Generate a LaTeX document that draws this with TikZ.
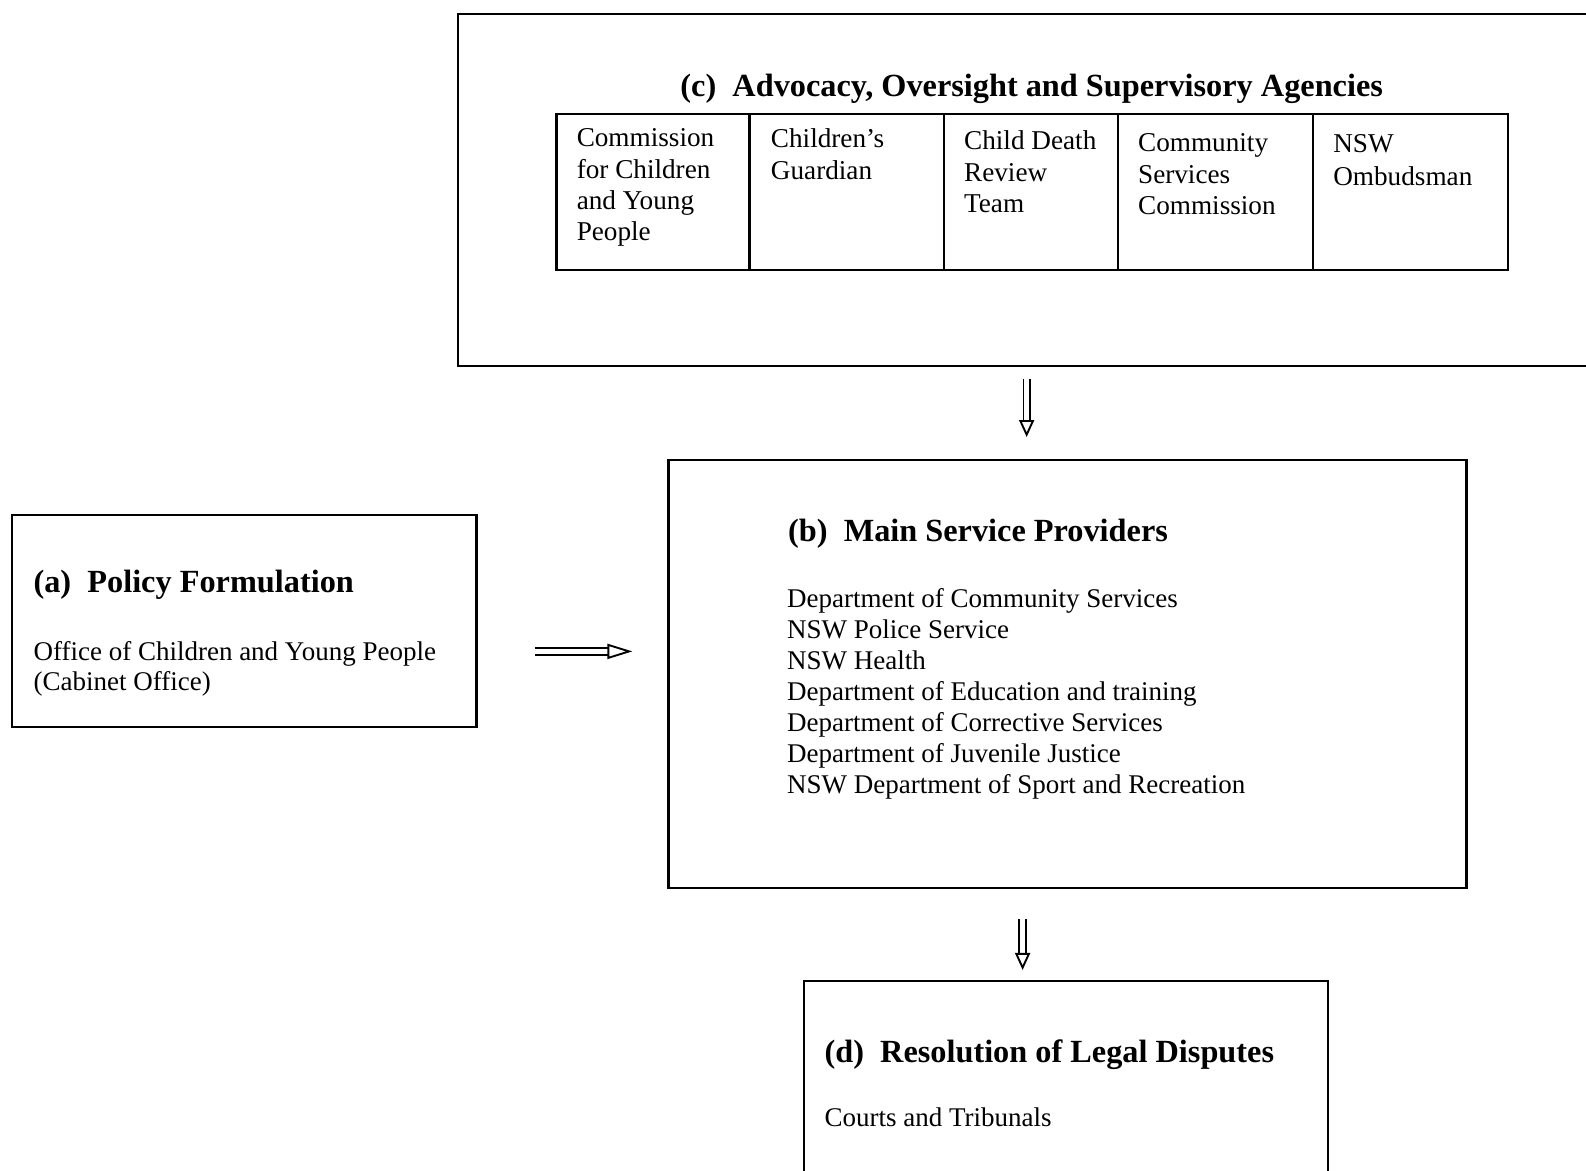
\documentclass[tikz,border=0pt]{standalone}
\usepackage{fontspec}
\setmainfont{Liberation Serif}
\usetikzlibrary{arrows.meta,calc}
\def\pxu{1.0115pt}
\tikzset{
  box/.style={draw, line width=2.4pt, rectangle, inner sep=0pt},
  cell/.style={draw, line width=2.4pt, rectangle, inner sep=0pt},
  head/.style={font=\fontsize{32.3}{36}\selectfont\bfseries, inner sep=0pt},
  txt/.style={font=\fontsize{27}{30}\selectfont, inner sep=0pt, anchor=base west},
  ctxt/.style={font=\fontsize{27.2}{30}\selectfont, inner sep=0pt, anchor=base west},
  arr/.style={double, double distance=4.5pt, line width=1.9pt, -{Triangle[open, length=17pt, width=15pt]}},
  harr/.style={double, double distance=4.5pt, line width=1.9pt, -{Triangle[open, length=25pt, width=15pt]}},
}
\begin{document}
\begin{tikzpicture}[x=1.0115pt,y=-1.0115pt]
\useasboundingbox (0,0) rectangle (1568,1157.7);
\clip (0,0) rectangle (1568,1157.7);
% (c)
\node[box, minimum width=1157*\pxu, minimum height=348*\pxu] (c) at (1031.5,188) {};
\node[head, anchor=base] (ct) at (1020,95) {(c)\ \ Advocacy, Oversight and Supervisory Agencies};
\node[cell, minimum width=191*\pxu, minimum height=154*\pxu] (c1) at (645.5,190) {};
\node[cell, minimum width=192*\pxu, minimum height=154*\pxu] (c2) at (837,190) {};
\node[cell, minimum width=172*\pxu, minimum height=154*\pxu] (c3) at (1019,190) {};
\node[cell, minimum width=193*\pxu, minimum height=154*\pxu] (c4) at (1201.5,190) {};
\node[cell, minimum width=193*\pxu, minimum height=154*\pxu] (c5) at (1394.5,190) {};
\foreach \t [count=\i] in {Commission, for Children, and Young, People}
  \node[ctxt] (c1t\i) at (570,{145+31*(\i-1)}) {\t};
\foreach \t [count=\i] in {Children’s, Guardian}
  \node[ctxt] (c2t\i) at (762,{146+31*(\i-1)}) {\t};
\foreach \t [count=\i] in {Child Death, Review, Team}
  \node[ctxt] (c3t\i) at (953,{148+31*(\i-1)}) {\t};
\foreach \t [count=\i] in {Community, Services, Commission}
  \node[ctxt] (c4t\i) at (1125,{150+31*(\i-1)}) {\t};
\foreach \t [count=\i] in {NSW, Ombudsman}
  \node[ctxt] (c5t\i) at (1318,{151+32*(\i-1)}) {\t};
% (b)
\node[box, minimum width=789*\pxu, minimum height=423*\pxu] (b) at (1055.5,666.5) {};
\node[head, anchor=base west] (bt) at (779,535) {(b)\ \ Main Service Providers};
\foreach \t [count=\i] in {Department of Community Services, NSW Police Service, NSW Health, Department of Education and training, Department of Corrective Services, Department of Juvenile Justice, NSW Department of Sport and Recreation}
  \node[txt] (bl\i) at (778,{601+30.5*(\i-1)}) {\t};
% (a)
\node[box, minimum width=459*\pxu, minimum height=210*\pxu] (a) at (241.5,614) {};
\node[head, anchor=base west] (at) at (33,586) {(a)\ \ Policy Formulation};
\node[txt] (a1) at (33,653) {Office of Children and Young People};
\node[txt] (a2) at (33,683) {(Cabinet Office)};
% (d)
\node[box, minimum width=518*\pxu, minimum height=240*\pxu] (d) at (1054,1090) {};
\node[head, anchor=base west] (dt) at (815,1050) {(d)\ \ Resolution of Legal Disputes};
\node[txt] (d1) at (815,1114) {Courts and Tribunals};
% arrows
\coordinate (x1) at (1015,0);
\coordinate (x2) at (1011,0);
\coordinate (y1) at (0,644);
\draw[arr] ([yshift=-12pt]c.south -| x1) -- ([yshift=22pt]b.north -| x1);
\draw[arr] ([yshift=-30pt]b.south -| x2) -- ([yshift=10pt]d.north -| x2);
\draw[harr] ([xshift=57pt]a.east |- y1) -- ([xshift=-35pt]b.west |- y1);
\end{tikzpicture}
\end{document}
